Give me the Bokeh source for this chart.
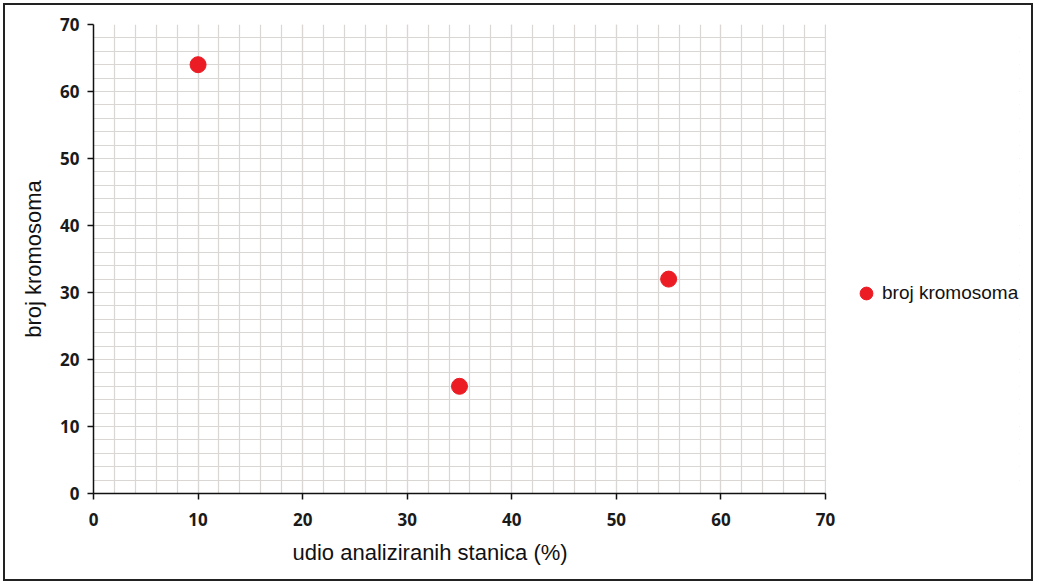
from bokeh.plotting import figure
from bokeh.models import (ColumnDataSource, Legend, LegendItem, Title, BoxAnnotation,
                          Range1d, SingleIntervalTicker)
from bokeh.embed import file_html
from bokeh.resources import INLINE

# data
udio = [10, 35, 55]
kromosomi = [64, 16, 32]
axis_max = 70
tick_step = 10
minor_per_major = 5

source = ColumnDataSource(data={"udio": udio, "broj": kromosomi})

# the frame is widened past 70 so that the legend can sit inside it; the part
# beyond 70 is painted white and the axis is bounded to 0..70
px_per_unit = 732 / axis_max
fig_w, fig_h = 1030, 578
left, right, top, bottom = 88, 16, 19, 90
frame_w = fig_w - left - right

p = figure(
    width=fig_w,
    height=fig_h,
    x_range=Range1d(0, frame_w / px_per_unit),
    y_range=Range1d(0, axis_max),
    output_backend="svg",
    toolbar_location=None,
    min_border_left=left,
    min_border_right=right,
    min_border_top=top,
    min_border_bottom=bottom,
    background_fill_color="white",
    border_fill_color="white",
)
p.outline_line_color = None
p.styles = {"border": "2px solid #222222", "margin-left": "3px", "margin-top": "3px"}

p.xaxis.ticker = SingleIntervalTicker(interval=tick_step, num_minor_ticks=minor_per_major)
p.yaxis.ticker = SingleIntervalTicker(interval=tick_step, num_minor_ticks=minor_per_major)
p.xaxis.bounds = (0, axis_max)

# axes
for ax in (p.xaxis, p.yaxis):
    ax.axis_line_color = "#111111"
    ax.axis_line_width = 1.5
    ax.major_tick_line_color = "#111111"
    ax.major_tick_line_width = 1.5
    ax.major_tick_out = 6
    ax.major_tick_in = 0
    ax.minor_tick_line_color = None
    ax.major_label_text_font = "Open Sans"
    ax.major_label_text_font_size = "17px"
    ax.major_label_text_font_style = "bold"
    ax.major_label_text_color = "#1a1a1a"

p.xaxis.major_label_standoff = 13
p.yaxis.major_label_standoff = 8

p.yaxis.axis_label = "broj kromosoma"
p.yaxis.axis_label_text_font = "Liberation Sans"
p.yaxis.axis_label_text_font_size = "22px"
p.yaxis.axis_label_text_font_style = "normal"
p.yaxis.axis_label_text_color = "#111111"
p.yaxis.axis_label_standoff = 11

# x label sits left of the frame centre in the original
xlab = Title(
    text="udio analiziranih stanica (%)", align="left", offset=199,
    text_font="Liberation Sans", text_font_size="22px",
    text_font_style="normal", text_color="#111111", standoff=19,
)
p.add_layout(xlab, "below")

# grid
for g in (p.xgrid, p.ygrid):
    g.grid_line_color = "#d9d6d3"
    g.grid_line_width = 1.2
    g.minor_grid_line_color = "#d9d6d3"
    g.minor_grid_line_width = 1.2

pts = p.scatter(
    x="udio", y="broj", source=source, size=16,
    marker="circle", fill_color="#ec1c24", line_color="#ec1c24",
)

cover = BoxAnnotation(left=axis_max + 0.06, fill_color="white", fill_alpha=1.0,
                      line_color=None, level="underlay")
p.add_layout(cover)

legend = Legend(
    items=[LegendItem(label="broj kromosoma", renderers=[pts])],
    location=(757, 184),
    padding=0, margin=0, spacing=0,
    glyph_width=32, glyph_height=32, label_standoff=0,
    border_line_color=None, background_fill_alpha=0,
    label_text_font="Liberation Sans", label_text_font_size="19px",
    label_text_color="#111111",
)
p.add_layout(legend)

open("out.html", "w").write(file_html(p, INLINE))
